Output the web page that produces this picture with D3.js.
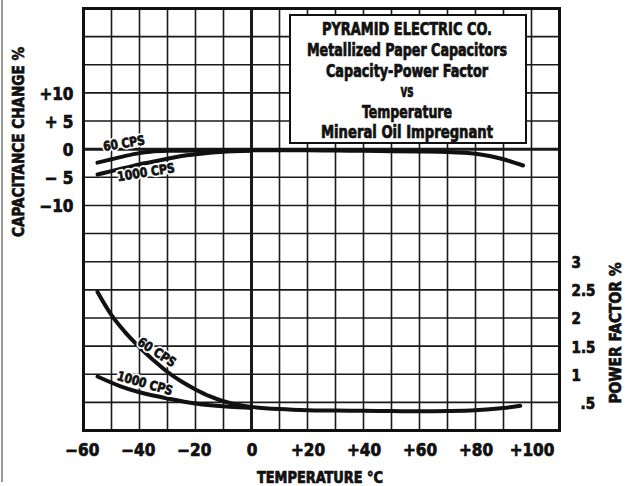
<!DOCTYPE html>
<html>
<head>
<meta charset="utf-8">
<script src="https://cdn.jsdelivr.net/npm/d3@7/dist/d3.min.js"></script>
<style>
  html, body { margin: 0; padding: 0; background: #fff; }
  svg { display: block; }
  text { font-family: "DejaVu Sans Condensed", "Liberation Sans Narrow", sans-serif; font-weight: bold; fill: #111; }
  .heavy { stroke: #111; stroke-width: 0.7px; }
</style>
</head>
<body>
<script>
// ---- data ----
const tempTicks = [-60, -40, -20, 0, 20, 40, 60, 80, 100];
const capTicks = [10, 5, 0, -5, -10];
const pfTicks = [3, 2.5, 2, 1.5, 1, 0.5];

const titleLines = ["PYRAMID  ELECTRIC  CO.", "Metallized Paper Capacitors", "Capacity-Power Factor", "vs", "Temperature", "Mineral Oil Impregnant"];

const capTemp60 = [-55, -50, -45, -40, -36, -30, -20, -10, 0, 10, 20, 30, 40, 50, 60, 70, 80, 85, 90, 97];
const cap60 =     [-2.4, -1.8, -1.2, -0.7, -0.45, -0.3, -0.25, -0.2, -0.2, -0.2, -0.2, -0.25, -0.3, -0.35, -0.4, -0.5, -0.8, -1.2, -1.8, -2.9];
const capTemp1000 = [-55, -50, -45, -40, -37, -30, -25, -20, -11, 0];
const cap1000 =     [-4.5, -3.9, -3.3, -2.7, -2.4, -1.7, -1.2, -0.9, -0.5, -0.3];

const pfTemp60 = [-55, -50, -45, -40, -35, -30, -25, -20, -15, -10, -5, 0, 10, 20, 30, 40, 50, 60, 70, 80, 90, 96];
const pf60 =     [2.46, 2.05, 1.74, 1.48, 1.25, 1.04, 0.87, 0.73, 0.61, 0.52, 0.46, 0.42, 0.38, 0.36, 0.355, 0.35, 0.345, 0.34, 0.345, 0.36, 0.4, 0.44];
const pfTemp1000 = [-55, -47, -40, -30, -20, -8, 0];
const pf1000 =     [0.96, 0.79, 0.68, 0.57, 0.48, 0.42, 0.40];

// ---- drawing ----
const W = 633, H = 486;
const svg = d3.select("body").append("svg").attr("width", W).attr("height", H);
svg.append("rect").attr("width", W).attr("height", H).attr("fill", "#fff");

const x = d3.scaleLinear().domain([-60, 110]).range([83.5, 559.5]);
const yCap = d3.scaleLinear().domain([-50, 25]).range([430.5, 8.5]);
const yPF = d3.scaleLinear().domain([0, 7.5]).range([430.5, 8.5]);

// scan edge line
svg.append("line").attr("x1", 2).attr("x2", 2).attr("y1", 0).attr("y2", 482)
  .attr("stroke", "#777").attr("stroke-width", 1.5);

// grid
const grid = svg.append("g");
grid.selectAll("line.v").data(d3.range(-60, 111, 10)).join("line")
  .attr("x1", d => x(d)).attr("x2", d => x(d))
  .attr("y1", yCap(25)).attr("y2", yCap(-50))
  .attr("stroke", "#1a1a1a").attr("stroke-width", d => d === 0 ? 3 : 1.6);
grid.selectAll("line.h").data(d3.range(-50, 26, 5)).join("line")
  .attr("x1", x(-60)).attr("x2", x(110))
  .attr("y1", d => yCap(d)).attr("y2", d => yCap(d))
  .attr("stroke", "#1a1a1a").attr("stroke-width", d => d === 0 ? 3 : 1.6);
grid.append("rect").attr("x", x(-60)).attr("y", yCap(25))
  .attr("width", x(110) - x(-60)).attr("height", yCap(-50) - yCap(25))
  .attr("fill", "none").attr("stroke", "#111").attr("stroke-width", 3);

// title box
const bx = 290, by = 15, bw = 236, bh = 128;
svg.append("rect").attr("x", bx).attr("y", by).attr("width", bw).attr("height", bh)
  .attr("fill", "#fff").attr("stroke", "#111").attr("stroke-width", 2);
const titleY = [28.5, 50, 70.5, 91, 111.5, 132];
const titleW = [170, 200, 162, 13, 90, 172];
svg.append("g").selectAll("text").data(titleLines).join("text")
  .attr("class", "heavy")
  .attr("x", 407).attr("y", (d, i) => titleY[i])
  .attr("dy", "0.36em").attr("text-anchor", "middle")
  .attr("font-size", 17)
  .attr("textLength", (d, i) => titleW[i]).attr("lengthAdjust", "spacingAndGlyphs")
  .text(d => d);

// curves
const curve = d3.curveCatmullRom.alpha(0.5);
const capLine = d3.line().x(d => x(d[0])).y(d => yCap(d[1])).curve(curve);
const pfLine = d3.line().x(d => x(d[0])).y(d => yPF(d[1])).curve(curve);
const curves = svg.append("g").attr("fill", "none").attr("stroke", "#111")
  .attr("stroke-width", 4).attr("stroke-linecap", "round");
curves.append("path").attr("d", capLine(d3.zip(capTemp60, cap60)));
curves.append("path").attr("d", capLine(d3.zip(capTemp1000, cap1000)));
curves.append("path").attr("d", pfLine(d3.zip(pfTemp60, pf60)));
curves.append("path").attr("d", pfLine(d3.zip(pfTemp1000, pf1000)));

// curve labels
const lab = svg.append("g").attr("font-size", 13);
function label(t, cx, cy, ang, len) {
  const g = lab.append("g").attr("transform", `translate(${cx},${cy}) rotate(${ang})`);
  g.append("text").attr("text-anchor", "middle").attr("dy", "0.36em")
    .attr("stroke", "#fff").attr("stroke-width", 4).attr("fill", "#fff")
    .attr("textLength", len).attr("lengthAdjust", "spacingAndGlyphs").text(t);
  g.append("text").attr("class", "heavy").attr("text-anchor", "middle").attr("dy", "0.36em")
    .attr("textLength", len).attr("lengthAdjust", "spacingAndGlyphs").text(t);
}
label("60  CPS", 124, 143, -9, 42);
label("1000  CPS", 146, 172, -9, 58);
label("60  CPS", 157, 352, 33, 43);
label("1000  CPS", 145, 383, 16, 57);

// axes
const fmtT = d => d < 0 ? "\u2212" + Math.abs(d) : d > 0 ? "+" + d : "0";
const xAxis = svg.append("g").attr("transform", `translate(0,${yCap(-50)})`)
  .call(d3.axisBottom(x).tickValues(tempTicks).tickFormat(fmtT).tickSize(0));
xAxis.select(".domain").remove();
xAxis.selectAll("text").attr("class", "heavy").attr("y", 19.5).attr("dy", "0.36em").attr("font-size", 17)
  .attr("fill", "#111").attr("dx", d => d < 0 ? "-0.1em" : 0);

const fmtC = d => d === 0 ? "0" : d > 0 ? (d < 10 ? "+ " + d : "+" + d) : (d > -10 ? "\u2212 " + Math.abs(d) : "\u2212" + Math.abs(d));
const yAxisL = svg.append("g").attr("transform", `translate(${x(-60)},0)`)
  .call(d3.axisLeft(yCap).tickValues(capTicks).tickFormat(fmtC).tickSize(0));
yAxisL.select(".domain").remove();
yAxisL.selectAll("text").attr("class", "heavy").attr("x", -10).attr("dy", "0.36em").attr("font-size", 17).attr("fill", "#111");

const fmtP = d => Number.isInteger(d) ? String(d) : (d < 1 ? ".5" : String(d));
const yAxisR = svg.append("g").attr("transform", `translate(${x(110)},0)`)
  .call(d3.axisRight(yPF).tickValues(pfTicks).tickFormat(fmtP).tickSize(0));
yAxisR.select(".domain").remove();
yAxisR.selectAll("text").attr("class", "heavy").attr("x", d => d < 1 ? 21 : 12).attr("dy", "0.4em")
  .attr("font-size", 15).attr("fill", "#111").attr("text-anchor", "start");

// axis titles
svg.append("text").attr("class", "heavy").attr("transform", "translate(18,142) rotate(-90)")
  .attr("text-anchor", "middle").attr("dy", "0.36em").attr("font-size", 16.5)
  .attr("textLength", 190).attr("lengthAdjust", "spacingAndGlyphs")
  .text("CAPACITANCE  CHANGE  %");
svg.append("text").attr("class", "heavy").attr("transform", "translate(615,333) rotate(-90)")
  .attr("text-anchor", "middle").attr("dy", "0.36em").attr("font-size", 16.5)
  .attr("textLength", 141).attr("lengthAdjust", "spacingAndGlyphs")
  .text("POWER  FACTOR  %");
svg.append("text").attr("class", "heavy").attr("x", 320).attr("y", 478)
  .attr("text-anchor", "middle").attr("dy", "0.36em").attr("font-size", 15)
  .attr("textLength", 126).attr("lengthAdjust", "spacingAndGlyphs")
  .text("TEMPERATURE  \u00B0C");
</script>
</body>
</html>
